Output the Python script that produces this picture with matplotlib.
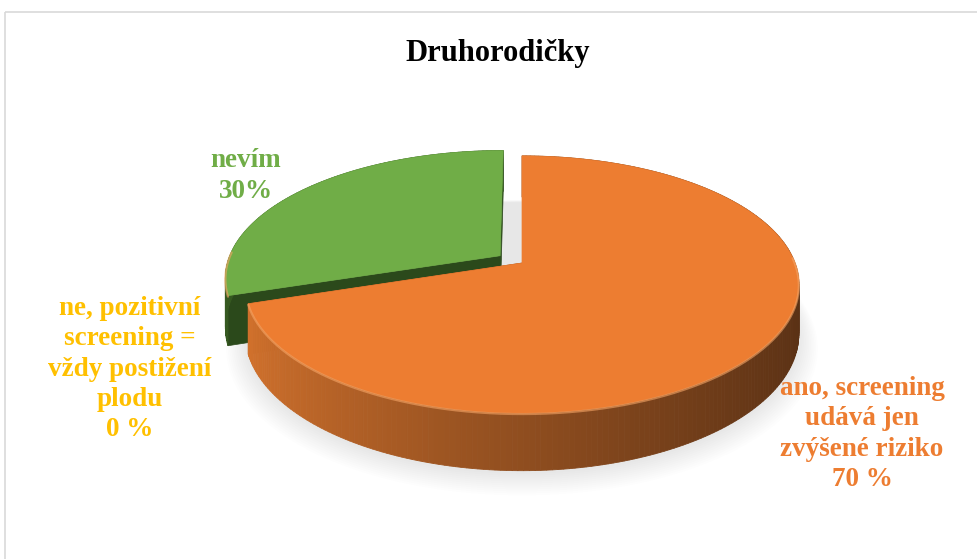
import numpy as np
import matplotlib.pyplot as plt
from matplotlib.patches import Polygon, Rectangle

plt.rcParams['font.family'] = ['Liberation Serif', 'DejaVu Serif']

# Druhorodičky - odpovědi (%)
labels = ['ano, screening\nudává jen\nzvýšené riziko\n70 %',
          'nevím\n30%',
          'ne, pozitivní\nscreening =\nvždy postižení\nplodu\n0 %']
values = [70, 30, 0]
explode = [0.0, 0.1, 0.0]
top_colors = ['#ED7D31', '#70AD47', '#FFC000']
label_colors = ['#ED7D31', '#70AD47', '#FFC000']
label_pos = [(862, 434), (246, 176), (130, 369)]

# projekce "3D" koláče (pixely)
cx, cy = 522, 263
rx, ry = 273, 125
k = 0.167
depth = 48


def proj(X, Y, z=0.0):
    s = 1.0 / (1.0 + k * Y)
    return cx + X * rx * s, cy - Y * ry * s + z * depth * s


fig = plt.figure(figsize=(9.78, 5.59), dpi=100)
ax = fig.add_axes([0, 0, 1, 1])
ax.set_xlim(0, 978)
ax.set_ylim(559, 0)
ax.axis('off')

ax.add_patch(Rectangle((5, 12), 1000, 600, fill=False, edgecolor='#D9D9D9', lw=1.2))

# měkký stín pod koláčem
th = np.linspace(0, 2 * np.pi, 200)
for i in range(12):
    sc = 1.0 + i * 0.006
    pts = [proj(sc * np.cos(t), sc * np.sin(t), 1.0) for t in th]
    pts = [(x, y + 3 + i * 0.8) for x, y in pts]
    ax.add_patch(Polygon(pts, closed=True, facecolor='#8C8C8C', edgecolor='none',
                         alpha=0.016, zorder=1))

total = float(sum(values))


def wall_color(X, light, dark):
    t = np.clip((X + 1) / 2, 0, 1) ** 0.8
    return tuple((1 - t) * np.array(light) + t * np.array(dark))


# úhly výsečí: start nahoře, po směru hodinových ručiček
slices = []
start = 90.0
for val, ex, col in zip(values, explode, top_colors):
    sweep = val / total * 360.0
    a1, a2 = start, start - sweep
    start = a2
    if val == 0:
        continue
    mid = np.radians((a1 + a2) / 2)
    slices.append((ex * np.sin(mid), a1, a2, sweep, ex, mid, col))

# vzadu ležící výseče kreslit první
slices.sort(key=lambda s: -s[0])

z = 2
for _, a1, a2, sweep, ex, mid, col in slices:
    ox, oy = ex * np.cos(mid), ex * np.sin(mid)
    angs = np.radians(np.linspace(a1, a2, max(int(sweep), 2) + 1))
    if col == '#70AD47':
        light, dark = (0.21, 0.35, 0.13), (0.17, 0.29, 0.11)
        cut_col = '#2B491B'
    else:
        light, dark = (0.85, 0.46, 0.18), (0.35, 0.19, 0.08)
        cut_col = '#8B4A1D'

    # řezné stěny
    for a in (angs[0], angs[-1]):
        ex_x, ex_y = ox + np.cos(a), oy + np.sin(a)
        quad = [proj(ox, oy, 0), proj(ex_x, ex_y, 0), proj(ex_x, ex_y, 1), proj(ox, oy, 1)]
        ax.add_patch(Polygon(quad, closed=True, facecolor=cut_col, edgecolor=cut_col,
                             lw=0.5, zorder=z))

    # vnější stěna, odzadu dopředu
    segs = []
    for b1, b2 in zip(angs[:-1], angs[1:]):
        X1, Y1 = ox + np.cos(b1), oy + np.sin(b1)
        X2, Y2 = ox + np.cos(b2), oy + np.sin(b2)
        quad = [proj(X1, Y1, 0), proj(X2, Y2, 0), proj(X2, Y2, 1), proj(X1, Y1, 1)]
        segs.append(((Y1 + Y2) / 2, quad, wall_color((X1 + X2) / 2, light, dark)))
    segs.sort(key=lambda s: -s[0])
    for _, quad, c in segs:
        ax.add_patch(Polygon(quad, closed=True, facecolor=c, edgecolor=c, lw=0.6, zorder=z))

    # horní plocha
    top = [proj(ox, oy)] + [proj(ox + np.cos(a), oy + np.sin(a)) for a in angs]
    ax.add_patch(Polygon(top, closed=True, facecolor=col, edgecolor=col, lw=0.5, zorder=z + 1))

    # světlá hrana horní plochy vpředu
    front = [a for a in angs if np.sin(a) < 0.05]
    if front:
        ex_pts = [proj(ox + np.cos(a), oy + np.sin(a)) for a in front]
        ax.plot([p[0] for p in ex_pts], [p[1] + 1 for p in ex_pts], color='#F6A566',
                lw=1.6, alpha=0.6, zorder=z + 2, solid_capstyle='round')
    z += 3

ax.text(498, 53, 'Druhorodičky', ha='center', va='center', fontsize=22,
        fontweight='bold', color='black')

for lab, (lx, ly), c in zip(labels, label_pos, label_colors):
    ax.text(lx, ly, lab, ha='center', va='center', fontsize=19.5, fontweight='bold',
            color=c, linespacing=1.27, zorder=20)

fig.savefig('out.png', dpi=100)
